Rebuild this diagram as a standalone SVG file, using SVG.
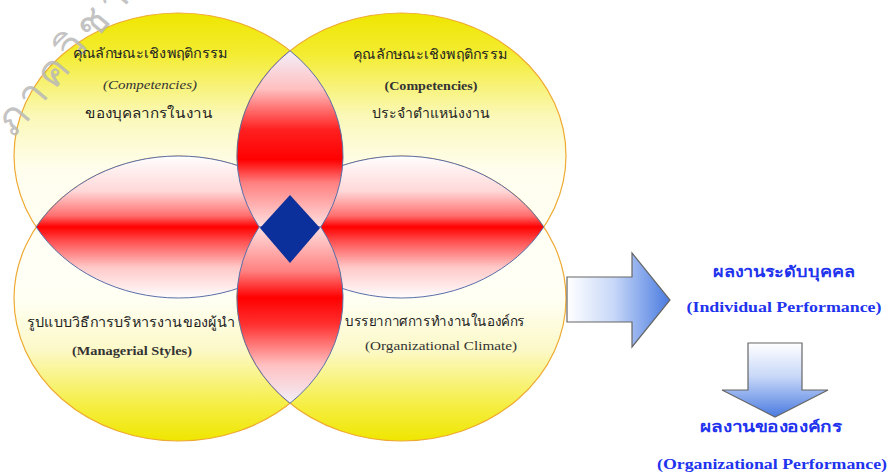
<svg xmlns="http://www.w3.org/2000/svg" width="889" height="472" viewBox="0 0 889 472">
<style>
.circ{stroke:#eeaa33;stroke-width:1.2}
.lens{stroke:#5a6ea8;stroke-width:1}
.th{font-family:"Liberation Serif","Noto Sans","DejaVu Sans",serif;font-size:14px;fill:#222;text-anchor:middle}
.en{font-family:"Liberation Serif",serif;font-size:11.5px;fill:#333;text-anchor:middle}
.bt{font-family:"Liberation Serif","Noto Sans","DejaVu Sans",serif;font-size:15px;font-weight:bold;fill:#2233ee;text-anchor:middle}
.arrow{stroke:#666;stroke-width:1.2}
</style>
<defs>
<linearGradient id="gTop" x1="0" y1="0" x2="0" y2="1">
<stop offset="0" stop-color="#efe600"/>
<stop offset="0.14" stop-color="#f3ec30"/>
<stop offset="0.36" stop-color="#fbf8b8"/>
<stop offset="0.55" stop-color="#fffeee"/>
<stop offset="1" stop-color="#fffff8"/>
</linearGradient>
<linearGradient id="gBot" x1="0" y1="0" x2="0" y2="1">
<stop offset="0" stop-color="#fffff8"/>
<stop offset="0.5" stop-color="#fffff4"/>
<stop offset="0.68" stop-color="#fcf9c8"/>
<stop offset="0.88" stop-color="#f5ee40"/>
<stop offset="1" stop-color="#efe600"/>
</linearGradient>
<linearGradient id="gHor" gradientUnits="userSpaceOnUse" x1="0" y1="155" x2="0" y2="299">
<stop offset="0" stop-color="#ffffff"/>
<stop offset="0.25" stop-color="#ffd8d8"/>
<stop offset="0.42" stop-color="#ff7070"/>
<stop offset="0.5" stop-color="#ff0000"/>
<stop offset="0.6" stop-color="#ff5050"/>
<stop offset="0.78" stop-color="#ffc8c8"/>
<stop offset="1" stop-color="#ffffff"/>
</linearGradient>
<linearGradient id="gVtop" gradientUnits="userSpaceOnUse" x1="0" y1="50" x2="0" y2="227">
<stop offset="0" stop-color="#f2f0fb"/>
<stop offset="0.22" stop-color="#ffc0c0"/>
<stop offset="0.45" stop-color="#ff2020"/>
<stop offset="0.62" stop-color="#ff0000"/>
<stop offset="0.75" stop-color="#ff8080"/>
<stop offset="1" stop-color="#ffe0e0"/>
</linearGradient>
<linearGradient id="gVbot" gradientUnits="userSpaceOnUse" x1="0" y1="227" x2="0" y2="404">
<stop offset="0" stop-color="#ffe0e0"/>
<stop offset="0.25" stop-color="#ff8080"/>
<stop offset="0.4" stop-color="#ff0000"/>
<stop offset="0.55" stop-color="#ff3030"/>
<stop offset="0.78" stop-color="#ffc0c0"/>
<stop offset="1" stop-color="#f2f0fb"/>
</linearGradient>
<linearGradient id="gArrR" x1="0" y1="0" x2="1" y2="0">
<stop offset="0" stop-color="#ffffff"/>
<stop offset="0.45" stop-color="#c8d8f8"/>
<stop offset="1" stop-color="#4a7be0"/>
</linearGradient>
<linearGradient id="gArrD" x1="0" y1="0" x2="0" y2="1">
<stop offset="0" stop-color="#ffffff"/>
<stop offset="0.45" stop-color="#c8d8f8"/>
<stop offset="1" stop-color="#4a7be0"/>
</linearGradient>
</defs>
<rect width="889" height="472" fill="#ffffff"/>
<g id="circle-tl"><ellipse class="circ" cx="178.5" cy="155.5" rx="164.5" ry="142.5" fill="url(#gTop)"/></g>
<g id="circle-tr"><ellipse class="circ" cx="401.5" cy="155.5" rx="164.5" ry="142.5" fill="url(#gTop)"/></g>
<g id="circle-bl"><ellipse class="circ" cx="178.5" cy="298.5" rx="164.5" ry="142.5" fill="url(#gBot)"/></g>
<g id="circle-br"><ellipse class="circ" cx="401.5" cy="298.5" rx="164.5" ry="142.5" fill="url(#gBot)"/></g>
<g id="lens-left"><path class="lens" fill="url(#gHor)" d="M36.2,227 A164.5,142.5 0 0,1 320.8,227 A164.5,142.5 0 0,1 36.2,227 Z"/></g>
<g id="lens-right"><path class="lens" fill="url(#gHor)" d="M259.2,227 A164.5,142.5 0 0,1 543.8,227 A164.5,142.5 0 0,1 259.2,227 Z"/></g>
<g id="lens-top"><path class="lens" fill="url(#gVtop)" d="M290,50.7 A164.5,142.5 0 0,0 259.2,227 L320.8,227 A164.5,142.5 0 0,0 290,50.7 Z"/></g>
<g id="lens-bottom"><path class="lens" fill="url(#gVbot)" d="M259.2,227 L320.8,227 A164.5,142.5 0 0,1 290,403.3 A164.5,142.5 0 0,1 259.2,227 Z"/></g>
<g id="center"><polygon points="290,195 320,228 290,263 260,228" fill="#0b2f9b"/></g>
<text x="14" y="138" transform="rotate(-50 14 138)" font-family="'Liberation Serif','Noto Sans','DejaVu Sans',serif" font-size="42" letter-spacing="5" fill="#b8b8b8" fill-opacity="0.85">ภาควิชา</text>
<g id="text-tl">
<text class="th" x="150" y="58" textLength="155" lengthAdjust="spacingAndGlyphs">คุณลักษณะเชิงพฤติกรรม</text>
<text class="en" x="150" y="89" font-style="italic" textLength="94" lengthAdjust="spacingAndGlyphs">(Competencies)</text>
<text class="th" x="149" y="118" textLength="128" lengthAdjust="spacingAndGlyphs">ของบุคลากรในงาน</text>
</g>
<g id="text-tr">
<text class="th" x="430" y="59" textLength="154" lengthAdjust="spacingAndGlyphs">คุณลักษณะเชิงพฤติกรรม</text>
<text class="en" x="431" y="90" font-weight="bold" textLength="93" lengthAdjust="spacingAndGlyphs">(Competencies)</text>
<text class="th" x="431" y="118" textLength="118" lengthAdjust="spacingAndGlyphs">ประจำตำแหน่งงาน</text>
</g>
<g id="text-bl">
<text class="th" x="131" y="327" textLength="208" lengthAdjust="spacingAndGlyphs">รูปแบบวิธีการบริหารงานของผู้นำ</text>
<text class="en" x="132" y="355" font-weight="bold" textLength="120" lengthAdjust="spacingAndGlyphs">(Managerial Styles)</text>
</g>
<g id="text-br">
<text class="th" x="435" y="326" textLength="180" lengthAdjust="spacingAndGlyphs">บรรยากาศการทำงานในองค์กร</text>
<text class="en" x="441" y="350" textLength="152" lengthAdjust="spacingAndGlyphs">(Organizational Climate)</text>
</g>
<g id="connectors">
<polygon class="arrow" fill="url(#gArrR)" points="567,277 632,277 632,253 670,300 632,347 632,322 567,322"/>
<polygon class="arrow" fill="url(#gArrD)" points="748,343 802,343 802,390 828,390 775,417 722,390 748,390"/>
</g>
<g id="individual">
<text class="bt" x="784" y="277" textLength="142" lengthAdjust="spacingAndGlyphs">ผลงานระดับบุคคล</text>
<text class="bt" x="784" y="312" textLength="195" lengthAdjust="spacingAndGlyphs">(Individual Performance)</text>
</g>
<g id="organizational">
<text class="bt" x="771" y="432" textLength="142" lengthAdjust="spacingAndGlyphs">ผลงานขององค์กร</text>
<text class="bt" x="772" y="469" textLength="230" lengthAdjust="spacingAndGlyphs">(Organizational Performance)</text>
</g>
</svg>
